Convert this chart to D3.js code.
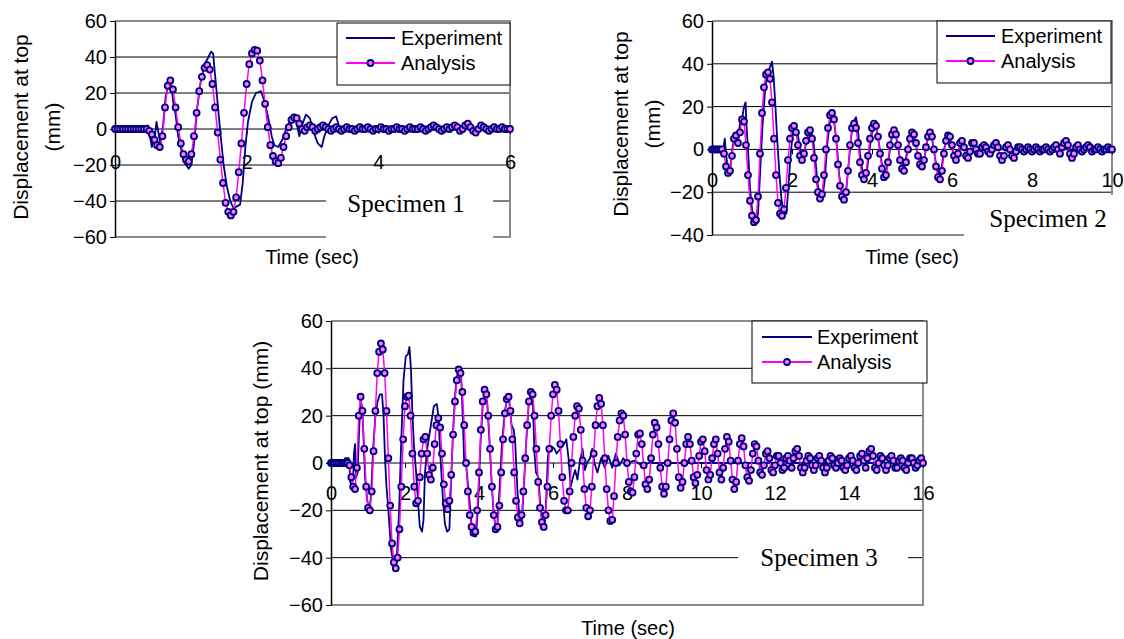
<!DOCTYPE html>
<html>
<head>
<meta charset="utf-8">
<script src="https://cdn.jsdelivr.net/npm/d3@7"></script>
<style>
body { margin: 0; background: #fff; }
</style>
</head>
<body>
<div id="fig"></div>
<script>
var width = 1124, height = 639;
var sansFont = "'Liberation Sans', Arial, sans-serif";
var serifFont = "'Liberation Serif', 'Times New Roman', serif";

// ---- data ----
var seriesNames = ["Experiment", "Analysis"];

// Specimen 1 : analysis sampled every 0.04 s
var ana1Step = 0.04;
var ana1 = [0,0,0,0,0,0,0,0,0,0,0,0,0,
  -1,-3,-6,-9,-10,-4,12,24,27,22,12,1,-8,-14,-17,-18,-14,-4,9,21,29,34,35.5,33,25,12,-2,
  -17,-30,-41,-46,-48,-46,-38,-24,-8,9,25,36,42,44,43.5,38,27,14,1,-9,-15,-18,-19,-16,-10,-4,
  1,5,6.5,6,3,0,-1,1,2,1,-1,0,1,2,1,0,-1,0,
  1,0,-1,0,1,0,0,-1,0,1,
  0,0,1,0,-1,0,0,1,0,0,
  -1,0,0,1,0,0,-1,0,1,0,
  0,0,1,0,-1,0,1,2,1,0,
  -1,0,1,0,1,2,1,-1,0,2,
  3,1,-1,-2,0,2,1,0,-1,0,
  1,0,0,1,0,0,0];
var exp1 = [[0,0],[0.45,0],[0.5,2],[0.53,-4],[0.56,-10],[0.6,-6],[0.63,4],[0.66,-2],[0.69,-8],[0.73,2],
  [0.77,18],[0.82,26],[0.86,24],[0.88,16],[0.92,8],[0.96,-4],[1.0,-10],[1.04,-18],[1.08,-20],[1.12,-22],
  [1.16,-20],[1.2,-8],[1.25,12],[1.3,26],[1.36,36],[1.42,40],[1.46,43],[1.49,42],[1.52,30],[1.56,14],
  [1.6,-2],[1.65,-20],[1.7,-32],[1.75,-40],[1.8,-44],[1.85,-43],[1.9,-42],[1.94,-30],[1.98,-10],[2.02,4],
  [2.08,15],[2.14,20],[2.22,21],[2.28,14],[2.34,4],[2.38,-4],[2.42,-9],[2.48,-10],[2.54,-6],[2.6,0],
  [2.66,4],[2.72,8],[2.76,3],[2.8,-4],[2.84,2],[2.9,8],[2.96,6],[3.02,-2],[3.08,-8],[3.14,-10],
  [3.18,-4],[3.24,2],[3.3,6],[3.36,7],[3.4,2],[3.46,-1],[3.5,1],[3.6,-1],[3.7,0],[4.0,0],[6,0]];

// Specimen 2 : analysis sampled every 0.05 s
var ana2Step = 0.05;
var ana2 = [0,0,0,0,0,0,-2,-8,-11,-10,
  -3,5,6.5,3,8,14,13,2,-12,-24,
  -31,-34,-33,-22,-2,17,29,35,36,33,
  22,5,-12,-25,-30,-31,-28,-18,-5,5,
  10,11,8,2,-3,-5,-2,4,8,9,
  5,-4,-14,-20,-23,-21,-12,0,10,16,
  17,14,5,-7,-17,-22,-23.5,-20,-10,2,
  10,12,10,3,-6,-12,-14,-11,-3,5,
  10,12,11,6,-2,-9,-13,-12,-6,2,
  7,9,7,2,-5,-9,-10,-6,0,5,
  8,7,3,-3,-7,-8,-5,1,6,8,
  6,0,-8,-13,-14,-10,-2,4,6.5,6,
  2,-3,-5,-2,3,4,1,-3,-4,-1,
  3,3,0,-2,-2,1,2,1,-1,-2,
  0,2,3,1,-3,-5,-3,1,2,0,
  -3,-4,-1,1,1,0,-1,0,1,0,
  -1,0,1,0,-1,0,0,1,0,-1,
  0,1,2,0,-2,1,3,4,2,-2,
  -4,-2,1,2,0,-1,0,1,2,1,
  -1,0,0,1,0,-1,0,0,1,0,
  0];
var exp2 = [[0,0],[0.28,0],[0.32,5],[0.35,-2],[0.4,-10],[0.46,-9],[0.52,2],[0.58,6],[0.64,4],[0.7,12],
  [0.76,15],[0.8,20],[0.84,22],[0.86,12],[0.9,0],[0.95,-18],[1.0,-28],[1.05,-33],[1.1,-34],[1.15,-30],
  [1.2,-12],[1.26,10],[1.32,26],[1.38,36],[1.44,38],[1.5,41],[1.54,34],[1.58,22],[1.62,8],[1.68,-10],
  [1.74,-24],[1.8,-30],[1.86,-30],[1.9,-20],[1.96,-4],[2.02,8],[2.08,11],[2.14,8],[2.2,0],[2.26,-4],
  [2.32,0],[2.4,7],[2.46,9],[2.52,6],[2.58,-4],[2.64,-16],[2.7,-22],[2.76,-23],[2.82,-14],[2.88,2],
  [2.94,12],[3.0,15],[3.06,12],[3.12,2],[3.18,-12],[3.24,-20],[3.3,-22],[3.36,-18],[3.42,-6],[3.48,6],
  [3.54,13],[3.6,15],[3.64,11],[3.7,-2],[3.76,-10],[3.82,-13],[3.88,-9],[3.94,0],[4.0,8],[4.06,11],
  [4.12,9],[4.18,2],[4.24,-6],[4.3,-11],[4.36,-10],[4.42,-4],[4.48,4],[4.54,8],[4.6,6],[4.66,0],
  [4.72,-6],[4.78,-8],[4.84,-5],[4.9,1],[4.96,6],[5.02,7],[5.08,4],[5.14,-2],[5.2,-6],[5.26,-7],
  [5.32,-3],[5.38,4],[5.44,7],[5.5,5],[5.56,-2],[5.62,-9],[5.68,-12],[5.74,-9],[5.8,0],[5.86,4],
  [5.92,5],[5.98,2],[6.04,-2],[6.1,-3],[6.2,1],[6.3,0],[7,0],[10,0]];

// Specimen 3 : analysis sampled every 0.05 s
var ana3Step = 0.05;
var ana3 = [0,0,0,0,0,0,0,0,0,0,-1,-6,-10,-11,-2,20,28,22,6,-10,
  -19,-20,-12,5,22,38,47,50.5,48,38,22,2,-18,-34,-42,-44.5,-40,-28,-10,10,
  24,28,28.5,20,4,-10,-17,-16,-6,4,10,11,4,-5,-7,-2,8,16,19,15,
  4,-9,-17,-19.5,-16,-5,12,26,35,39.5,38,30,16,0,-12,-22,-27,-29.5,-29,-20,
  -4,14,26,31,29,20,6,-10,-22,-28,-27,-18,-4,10,21,27,28,22,10,-4,
  -16,-23,-25.5,-22,-12,2,16,26,30,29,20,6,-8,-19,-25,-27,-22,-10,6,20,
  29,33,31,22,8,-6,-16,-20,-20,-12,0,11,20,24,23,14,1,-11,-19,-22.5,
  -20,-10,4,16,24,27.5,25,16,2,-11,-20,-24.5,-24,-14,0,11,18,21,20,12,
  0,-8,-12,-12.5,-6,4,12,12.5,8,-1,-9,-11,-7,2,12,17,15,8,-2,-10,
  -13,-10,0,10,18,21,17,6,-6,-10.5,-8,0,8,11,8,1,-6,-8.5,-5,3,
  9,10,5,-3,-7,-5,2,8,10,4,-4,-7,-2,6,11,9,1,-7,-11,-8,
  1,8,10.5,7,-1,-6,-7.5,-3,4,8,7,1,-4,-5,-1,4,5,2,-3,-4,
  -1,3,3,0,-3,-2,2,3,1,-2,2,5,6,3,-2,-4,-2,1,3,2,
  -1,-3,-1,2,3,1,-2,-4,-2,1,3,2,-1,-2,0,2,1,-2,-3,-1,
  2,3,1,-2,-3,0,3,4,1,-2,2,5,6,3,-2,-3,0,3,2,-1,
  -3,-1,2,3,1,-2,-2,1,2,1,-2,-3,0,2,2,0,-2,-1,1,2,
  0];
var exp3 = [[0,0],[0.35,0],[0.38,2],[0.48,2],[0.5,-1],[0.52,-8],[0.56,-10],[0.6,-6],[0.62,4],[0.65,8],
  [0.68,-6],[0.72,-4],[0.76,14],[0.8,26],[0.84,24],[0.88,10],[0.92,-6],[0.98,-16],[1.04,-20],[1.08,-14],
  [1.14,6],[1.2,20],[1.26,26],[1.32,29],[1.38,29],[1.42,20],[1.46,2],[1.5,-10],[1.56,-22],[1.62,-36],
  [1.68,-42],[1.74,-44],[1.78,-40],[1.84,-20],[1.9,10],[1.96,35],[2.02,45],[2.08,46],[2.12,49],[2.16,40],
  [2.2,21],[2.24,8],[2.3,-4],[2.36,-18],[2.4,-27],[2.46,-29],[2.5,-24],[2.54,-4],[2.6,6],[2.66,12],
  [2.72,18],[2.78,24],[2.86,25],[2.9,20],[2.96,2],[3.02,-14],[3.08,-26],[3.14,-29],[3.2,-28],[3.24,-10],
  [3.3,14],[3.36,30],[3.42,38],[3.48,40],[3.52,36],[3.56,20],[3.6,0],[3.66,-2],[3.72,-12],[3.8,-26],
  [3.86,-31],[3.92,-31],[3.98,-16],[4.04,8],[4.1,24],[4.16,30],[4.22,26],[4.28,10],[4.34,-8],[4.4,-22],
  [4.46,-28],[4.5,-25],[4.56,-10],[4.62,8],[4.7,22],[4.76,27],[4.82,26],[4.88,16],[4.94,14],[4.98,8],
  [5.04,-12],[5.1,-25],[5.16,-24],[5.22,-8],[5.28,10],[5.34,24],[5.4,29],[5.46,24],[5.5,4],[5.54,-4],
  [5.6,-6],[5.66,-18],[5.72,-26],[5.78,-27],[5.82,-14],[5.86,2],[5.9,7],[5.96,7],[6.04,6],[6.1,4],
  [6.2,6],[6.3,8],[6.36,10],[6.42,2],[6.48,-10],[6.54,-6],[6.6,-3],[6.66,-7],[6.72,0],[6.8,6],
  [6.86,-3],[6.92,0],[7.0,2],[7.06,6],[7.12,0],[7.2,-4],[7.3,2],[7.4,-2],[7.5,3],[7.6,-2],
  [7.7,4],[7.8,-1],[7.9,2],[8.0,0],[8.2,1],[8.4,-1],[8.6,0],[16,0]];

var xTicks1 = [0, 2, 4, 6];
var xTicks2 = [0, 2, 4, 6, 8, 10];
var xTicks3 = [0, 2, 4, 6, 8, 10, 12, 14, 16];
var yTicks1 = [-60, -40, -20, 0, 20, 40, 60];
var yTicks2 = [-40, -20, 0, 20, 40, 60];
var yTicks3 = [-60, -40, -20, 0, 20, 40, 60];

var expColor = "#000080", anaColor = "#ff00ff", markFill = "#ff7aff";

var svg = d3.select("#fig").append("svg")
    .attr("width", width)
    .attr("height", height);
svg.append("rect").attr("width", width).attr("height", height).attr("fill", "#fff");

function toPoints(vals, step) {
    return vals.map(function(v, i) { return [i * step, v]; });
}

function drawPanel(p) {
    var x = d3.scaleLinear().domain([0, p.xTicks[p.xTicks.length - 1]]).range([p.left, p.right]);
    var y = d3.scaleLinear().domain([p.yTicks[0], p.yTicks[p.yTicks.length - 1]]).range([p.bottom, p.top]);
    var g = svg.append("g");

    // gridlines (black, Excel style)
    g.selectAll(".grid")
        .data(p.yTicks.slice(1, -1))
        .enter().append("line")
        .attr("x1", p.left).attr("x2", p.right)
        .attr("y1", d => y(d)).attr("y2", d => y(d))
        .attr("stroke", "#000").attr("stroke-width", 1);

    // plot area border
    g.append("path")
        .attr("d", "M" + p.left + "," + p.top + "H" + p.right + "V" + p.bottom + "H" + p.left)
        .attr("fill", "none").attr("stroke", "#8c8c8c").attr("stroke-width", 2);

    // y axis
    var ya = g.append("g").attr("transform", "translate(" + p.left + ",0)")
        .call(d3.axisLeft(y).tickValues(p.yTicks).tickSize(5).tickSizeOuter(0).tickPadding(3));
    ya.select(".domain").attr("stroke", "#000").attr("stroke-width", 1.5);
    ya.selectAll("text").style("font-size", "20px").style("font-family", sansFont).attr("fill", "#000");

    // x axis sits on the zero line
    var xa = g.append("g").attr("transform", "translate(0," + y(0) + ")")
        .call(d3.axisBottom(x).tickValues(p.xTicks).tickFormat(d3.format("d"))
            .tickSize(5).tickSizeOuter(0).tickPadding(p.xPad));
    xa.select(".domain").remove();
    xa.selectAll("text").style("font-size", "20px").style("font-family", sansFont).attr("fill", "#000");

    var line = d3.line().x(d => x(d[0])).y(d => y(d[1]));

    g.append("path").datum(p.exp)
        .attr("d", line).attr("fill", "none")
        .attr("stroke", expColor).attr("stroke-width", 1.8).attr("stroke-linejoin", "round");

    g.append("path").datum(p.ana)
        .attr("d", line).attr("fill", "none")
        .attr("stroke", anaColor).attr("stroke-width", 1.5);

    g.selectAll(".mk")
        .data(p.ana)
        .enter().append("circle")
        .attr("cx", d => x(d[0])).attr("cy", d => y(d[1]))
        .attr("r", 3)
        .attr("fill", markFill).attr("stroke", expColor).attr("stroke-width", 1.8);

    // legend
    var lg = g.append("g");
    lg.append("rect")
        .attr("x", p.legend.x).attr("y", p.legend.y)
        .attr("width", p.legend.w).attr("height", p.legend.h)
        .attr("fill", "#fff").attr("stroke", "#000").attr("stroke-width", 1);
    seriesNames.forEach(function(name, i) {
        var ly = p.legend.rows[i];
        lg.append("line")
            .attr("x1", p.legend.lx1).attr("x2", p.legend.lx2)
            .attr("y1", ly).attr("y2", ly)
            .attr("stroke", i == 0 ? expColor : anaColor).attr("stroke-width", 2);
        if (i == 1) {
            lg.append("circle")
                .attr("cx", (p.legend.lx1 + p.legend.lx2) / 2).attr("cy", ly).attr("r", 3)
                .attr("fill", markFill).attr("stroke", expColor).attr("stroke-width", 1.8);
        }
        lg.append("text")
            .attr("x", p.legend.tx).attr("y", ly)
            .attr("dominant-baseline", "central")
            .style("font-family", sansFont).style("font-size", "20px")
            .text(name);
    });

    // specimen tag
    g.append("rect")
        .attr("x", p.tag.x).attr("y", p.tag.y).attr("width", p.tag.w).attr("height", p.tag.h)
        .attr("fill", "#fff");
    g.append("text")
        .attr("x", p.tag.cx).attr("y", p.tag.cy)
        .attr("text-anchor", "middle").attr("dominant-baseline", "central")
        .style("font-family", serifFont).style("font-size", "25px")
        .text(p.tag.text);

    // axis titles
    p.yTitle.forEach(function(t) {
        g.append("text")
            .attr("transform", "translate(" + t.x + "," + p.yTitleY + ") rotate(-90)")
            .attr("text-anchor", "middle").attr("dominant-baseline", "central")
            .style("font-family", sansFont).style("font-size", "21px")
            .text(t.text);
    });
    g.append("text")
        .attr("x", p.xTitle[0]).attr("y", p.xTitle[1])
        .attr("text-anchor", "middle").attr("dominant-baseline", "central")
        .style("font-family", sansFont).style("font-size", "20px")
        .text("Time (sec)");
}

drawPanel({
    left: 115, right: 510, top: 21, bottom: 237,
    xTicks: xTicks1, yTicks: yTicks1, xPad: 21,
    exp: exp1, ana: toPoints(ana1, ana1Step),
    legend: {x: 337, y: 23, w: 173, h: 62, rows: [38, 63], lx1: 346, lx2: 395, tx: 401},
    tag: {x: 326, y: 192, w: 167, h: 48, cx: 406, cy: 203, text: "Specimen 1"},
    yTitle: [{x: 20, text: "Displacement at top"}, {x: 52, text: "(mm)"}], yTitleY: 127,
    xTitle: [312, 257]
});

drawPanel({
    left: 712, right: 1112, top: 21, bottom: 235,
    xTicks: xTicks2, yTicks: yTicks2, xPad: 18.5,
    exp: exp2, ana: toPoints(ana2, ana2Step),
    legend: {x: 937, y: 21, w: 174, h: 62, rows: [36, 61], lx1: 946, lx2: 995, tx: 1001},
    tag: {x: 964, y: 195, w: 160, h: 50, cx: 1048, cy: 218, text: "Specimen 2"},
    yTitle: [{x: 620, text: "Displacement at top"}, {x: 652, text: "(mm)"}], yTitleY: 124,
    xTitle: [912, 257]
});

drawPanel({
    left: 331, right: 923, top: 321, bottom: 605,
    xTicks: xTicks3, yTicks: yTicks3, xPad: 18,
    exp: exp3, ana: toPoints(ana3, ana3Step),
    legend: {x: 752, y: 321, w: 175, h: 62, rows: [337, 362], lx1: 762, lx2: 812, tx: 817},
    tag: {x: 738, y: 540, w: 170, h: 38, cx: 819, cy: 557, text: "Specimen 3"},
    yTitle: [{x: 260, text: "Displacement at top (mm)"}], yTitleY: 461,
    xTitle: [628, 628]
});
</script>
</body>
</html>
